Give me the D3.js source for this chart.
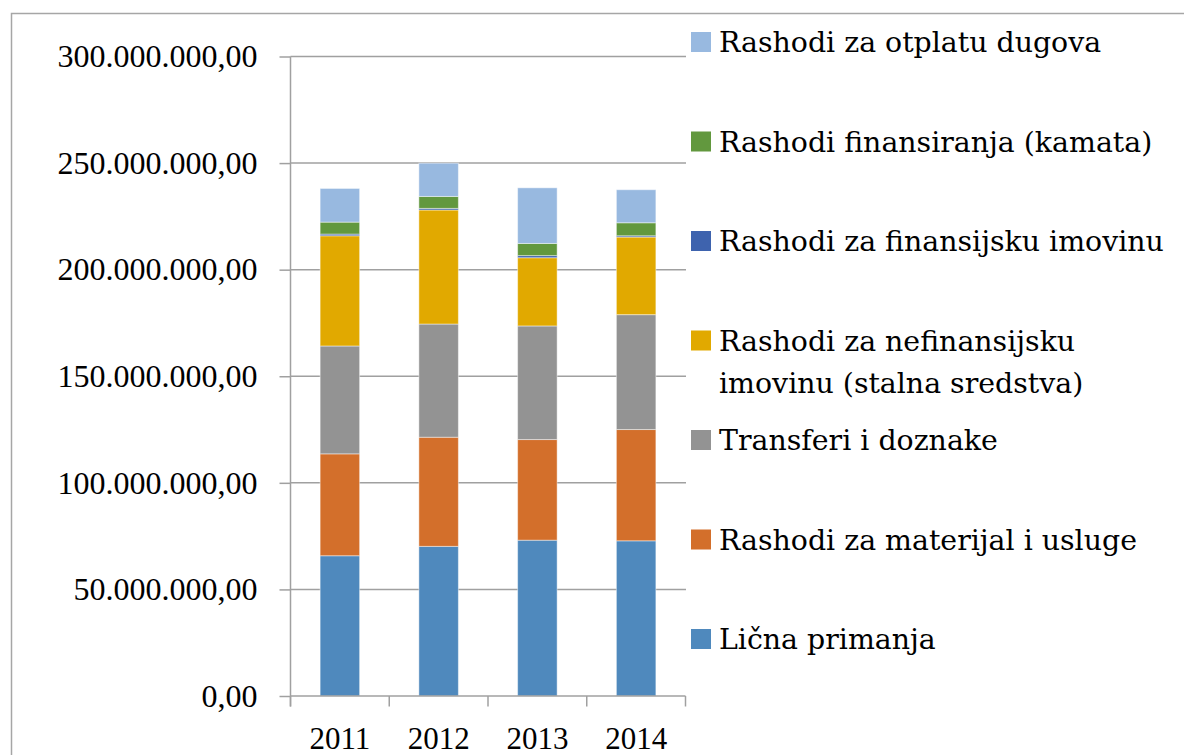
<!DOCTYPE html>
<meta charset='utf-8'>
<style>
  body { margin: 0; background: #fff; }
  svg text { font-family: "Liberation Serif", "Times New Roman", serif; fill: #000; }
  .legend text { font-family: "DejaVu Serif", serif; }
</style>
<body>
<div class="chart"></div>
<script src="https://cdn.jsdelivr.net/npm/d3@7"></script>
<script>

var years = ['2011', '2012', '2013', '2014'];

var seriesNames = [
  'Lična primanja',
  'Rashodi za materijal i usluge',
  'Transferi i doznake',
  'Rashodi za nefinansijsku imovinu (stalna sredstva)',
  'Rashodi za finansijsku imovinu',
  'Rashodi finansiranja (kamata)',
  'Rashodi za otplatu dugova'
];

// values per series, one per year
var licnaPrimanja   = [65800000, 70200000, 73100000, 72800000];
var materijal       = [47800000, 51200000, 47200000, 52200000];
var transferi       = [50600000, 53100000, 53300000, 53900000];
var nefinansijska   = [51700000, 53500000, 32000000, 36400000];
var finansijska     = [  800000,   750000,  1000000,   600000];
var kamata          = [ 5600000,  5600000,  5700000,  6100000];
var otplataDugova   = [15800000, 15600000, 26100000, 15500000];

var yTicks = [0, 50000000, 100000000, 150000000, 200000000, 250000000, 300000000];

var colors = ['#4f89bd', '#d36f2b', '#939393', '#e1a900', '#3e63ae', '#62983e', '#98b9e0'];

var allSeries = [licnaPrimanja, materijal, transferi, nefinansijska, finansijska, kamata, otplataDugova];

var rows = years.map(function(y, i) {
  var r = { year: y };
  seriesNames.forEach(function(n, k) { r[n] = allSeries[k][i]; });
  return r;
});

var width = 1184, height = 755;
var svg = d3.select('.chart').append('svg')
  .attr('width', width)
  .attr('height', height);

// outer chart border (runs off the picture on the right and bottom)
svg.append('rect')
  .attr('x', 11.5).attr('y', 13.5)
  .attr('width', 1200).attr('height', 800)
  .attr('fill', 'none')
  .attr('stroke', '#a6a6a6')
  .attr('stroke-width', 1.5);

var x = d3.scaleBand()
  .domain(years)
  .range([290.5, 685.5])
  .paddingInner(0.6)
  .paddingOuter(0.3);

var xOuter = d3.scaleBand().domain(years).range([290.5, 685.5]);

var y = d3.scaleLinear()
  .domain([0, 300000000])
  .range([696, 56.5]);

// gridlines
svg.append('g')
  .selectAll('line')
  .data(yTicks.slice(1))
  .enter().append('line')
  .attr('x1', 290.5).attr('x2', 686)
  .attr('y1', function(d) { return y(d); })
  .attr('y2', function(d) { return y(d); })
  .attr('stroke', '#a0a0a0')
  .attr('stroke-width', 1.5);

var stack = d3.stack().keys(seriesNames)(rows);

svg.append('g')
  .selectAll('g')
  .data(stack)
  .enter().append('g')
  .attr('fill', function(d, i) { return colors[i]; })
  .selectAll('rect')
  .data(function(d) { return d; })
  .enter().append('rect')
  .attr('x', function(d) { return x(d.data.year); })
  .attr('width', x.bandwidth())
  .attr('y', function(d) { return y(d[1]); })
  .attr('height', function(d) { return y(d[0]) - y(d[1]); })
  .attr('stroke', 'rgba(255,255,255,0.45)')
  .attr('stroke-width', 1);

// y axis
var fmt = function(d) {
  var s = d3.format(',.2f')(d);
  return s.replace(/,/g, '#').replace('.', ',').replace(/#/g, '.');
};

var yAxis = svg.append('g')
  .attr('transform', 'translate(290.5,0)')
  .call(d3.axisLeft(y).tickValues(yTicks).tickSize(11).tickPadding(22).tickFormat(fmt));
yAxis.select('.domain').attr('d', 'M0,' + y(300000000) + 'V706.5');
yAxis.selectAll('line').attr('stroke', '#a0a0a0').attr('stroke-width', 1.5);
yAxis.selectAll('text')
  .style('font-family', '"Liberation Serif", serif')
  .attr('font-size', 32)
  .attr('fill', '#000');
yAxis.select('.domain').attr('stroke', '#a0a0a0').attr('stroke-width', 1.5);

// x axis
var xAxis = svg.append('g').attr('transform', 'translate(0,696)');
xAxis.append('line')
  .attr('x1', 290.5).attr('x2', 685.5)
  .attr('stroke', '#a0a0a0').attr('stroke-width', 1.5);
xAxis.selectAll('.tk')
  .data(years.concat(['end']))
  .enter().append('line')
  .attr('x1', function(d, i) { return i < years.length ? xOuter(d) : xOuter.range()[1]; })
  .attr('x2', function(d, i) { return i < years.length ? xOuter(d) : xOuter.range()[1]; })
  .attr('y1', 0).attr('y2', 10.5)
  .attr('stroke', '#a0a0a0').attr('stroke-width', 1.5);
xAxis.selectAll('text')
  .data(years)
  .enter().append('text')
  .attr('x', function(d) { return xOuter(d) + xOuter.bandwidth() / 2; })
  .attr('y', 53)
  .attr('text-anchor', 'middle')
  .attr('font-size', 31)
  .text(function(d) { return d; });

// legend, drawn top to bottom in reverse series order
var legendOrder = d3.range(seriesNames.length).reverse();
var legendY = d3.scalePoint().domain(d3.range(7)).range([32, 629]);

var legend = svg.append('g').attr('class', 'legend');
legendOrder.forEach(function(k, j) {
  var gy = legendY(j);
  legend.append('rect')
    .attr('x', 691).attr('y', gy)
    .attr('width', 20).attr('height', 20)
    .attr('fill', colors[k]);
  var name = seriesNames[k];
  var lines = name === 'Rashodi za nefinansijsku imovinu (stalna sredstva)'
    ? ['Rashodi za nefinansijsku', 'imovinu (stalna sredstva)']
    : [name];
  lines.forEach(function(t, li) {
    legend.append('text')
      .attr('x', 719)
      .attr('y', gy + 20 + li * 42.7)
      .attr('font-size', 28.4)
      .text(t);
  });
});

</script>
</body>
